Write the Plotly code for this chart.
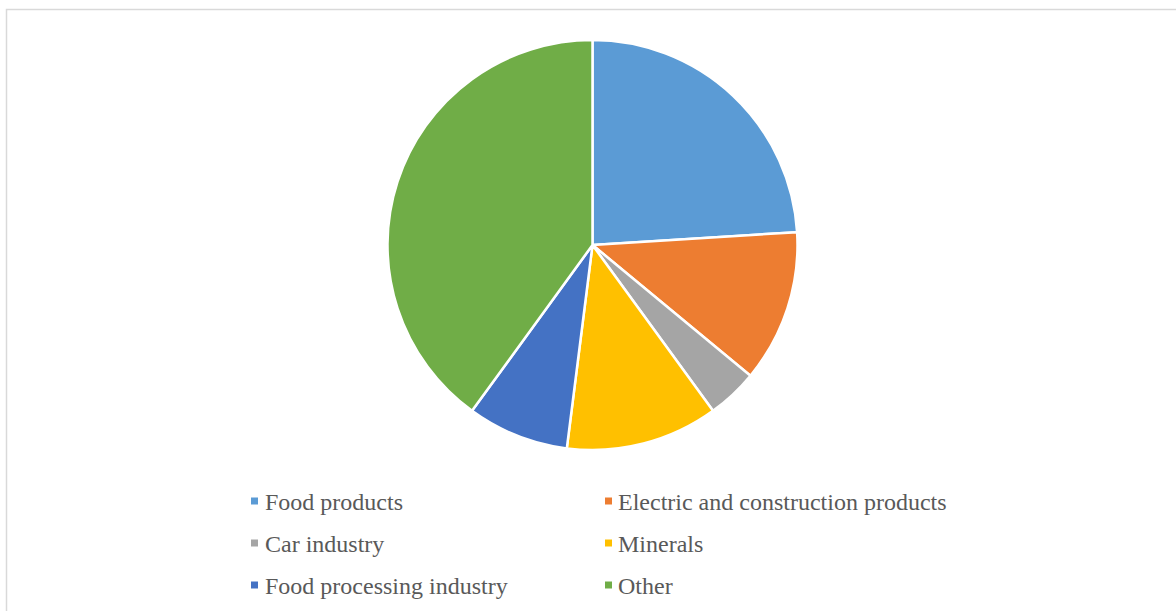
import plotly.graph_objects as go

# Sector shares (%)
categories = ["Food products", "Electric and construction products", "Car industry",
              "Minerals", "Food processing industry", "Other"]
shares = [24, 12, 4, 12, 8, 40]
colors = ["#5B9BD5", "#ED7D31", "#A5A5A5", "#FFC000", "#4472C4", "#70AD47"]

W, H = 1176, 611

fig = go.Figure()
fig.add_trace(go.Pie(
    labels=categories,
    values=shares,
    sort=False,
    direction="clockwise",
    rotation=0,
    marker=dict(colors=colors, line=dict(color="#FFFFFF", width=2.5)),
    textinfo="none",
    hoverinfo="label+percent",
    showlegend=False,
    domain=dict(x=[592.5 / W - 0.3, 592.5 / W + 0.3],
                y=[(H - 450) / H, (H - 40) / H]),
))

# Legend laid out as a two-column grid under the pie
col_sq = [251, 605]
col_tx = [263, 616]
row_y = [501, 543, 585]
shapes = []
annotations = []
for i, (name, col) in enumerate(zip(categories, colors)):
    c, r = i % 2, i // 2
    cy = row_y[r]
    shapes.append(dict(type="rect", xref="paper", yref="paper",
                       x0=col_sq[c] / W, x1=(col_sq[c] + 7) / W,
                       y0=1 - (cy + 3.5) / H, y1=1 - (cy - 3.5) / H,
                       fillcolor=col, line=dict(width=0)))
    annotations.append(dict(xref="paper", yref="paper", x=col_tx[c] / W, y=1 - (cy + 1) / H,
                            xanchor="left", yanchor="middle", showarrow=False, text=name,
                            font=dict(family="Liberation Serif", size=24, color="#595959")))

# Chart frame
shapes.append(dict(type="rect", xref="paper", yref="paper",
                   x0=6.5 / W, x1=1.05, y0=-0.05, y1=1 - 9.5 / H,
                   line=dict(color="#D9D9D9", width=1.5), fillcolor="rgba(0,0,0,0)"))

fig.update_layout(
    width=W, height=H,
    margin=dict(l=0, r=0, t=0, b=0),
    paper_bgcolor="#FFFFFF",
    plot_bgcolor="#FFFFFF",
    shapes=shapes,
    annotations=annotations,
)

fig.write_html("out.html")
